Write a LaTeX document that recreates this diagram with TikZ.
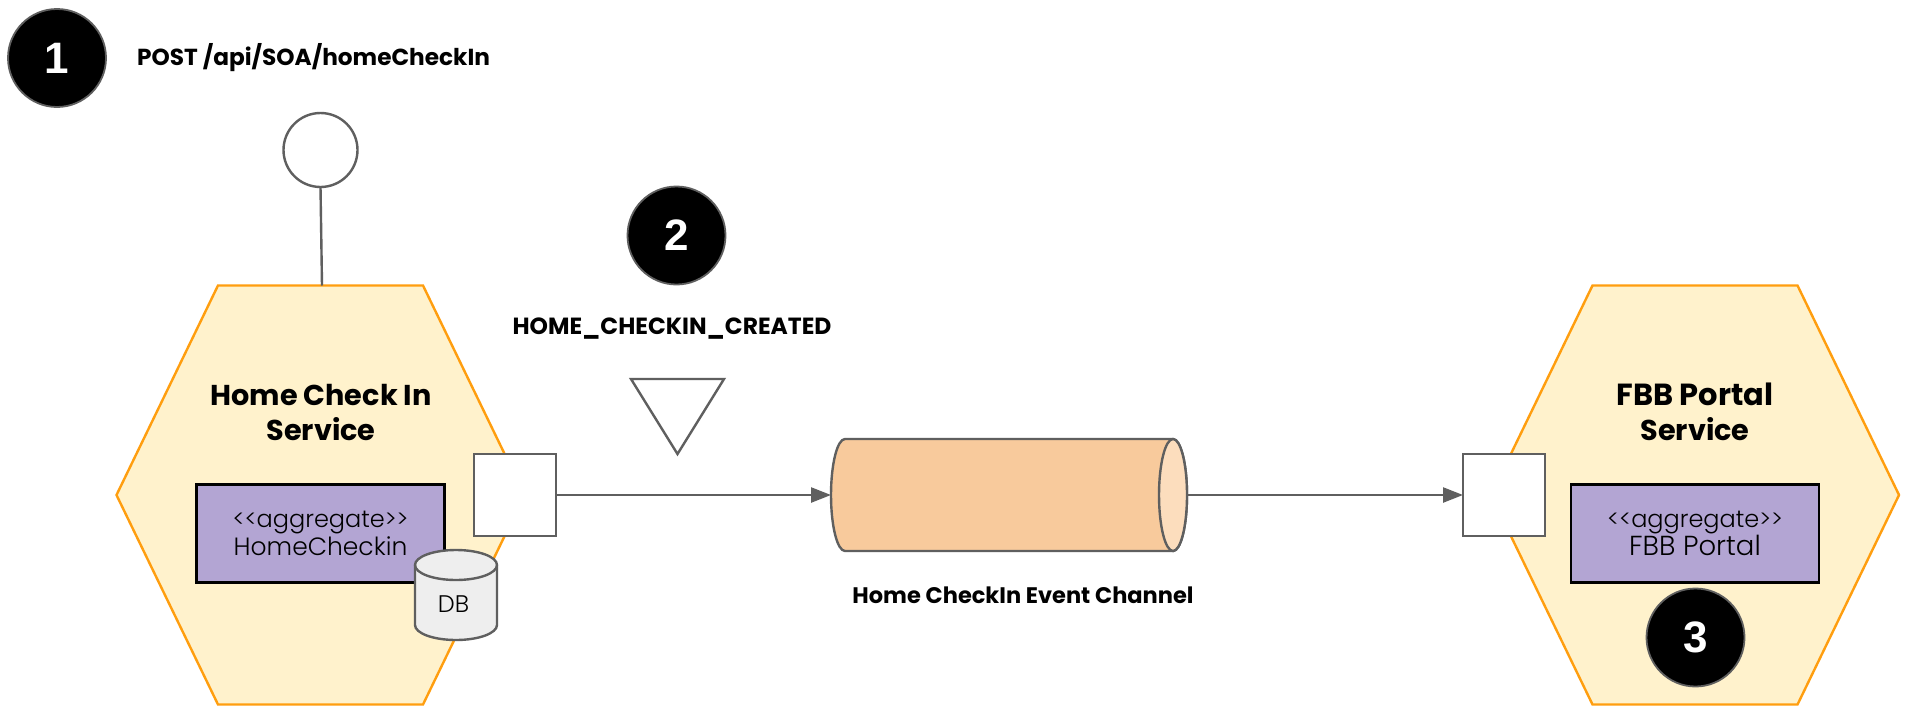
\documentclass[tikz,border=0pt]{standalone}
\usepackage{fontspec}
\setmainfont{Poppins}
\newfontfamily\badgefont{Liberation Sans}
\newfontfamily\lightfont{Poppins Light}
\usetikzlibrary{calc,arrows.meta}
\definecolor{lineGray}{HTML}{5F5F5F}
\definecolor{hexFill}{HTML}{FFF2CC}
\definecolor{hexLine}{HTML}{FF9E0F}
\definecolor{aggFill}{HTML}{B3A5D3}
\definecolor{chanFill}{HTML}{F8CA9C}
\definecolor{chanEnd}{HTML}{FCDDBD}
\definecolor{dbFill}{HTML}{EEEEEE}
\newcommand{\linesize}[1]{\fontsize{#1}{28}\selectfont}
\tikzset{
  x=1pt,y=-1pt,
  badge/.style={circle,draw=lineGray,fill=black,line width=1.8pt,minimum size=98pt,inner sep=0pt,text=white,font=\badgefont\fontsize{44}{44}\selectfont\bfseries},
  hexbox/.style={minimum width=408pt,minimum height=419pt,inner sep=0pt,outer sep=0pt},
  hexline/.style={draw=hexLine,fill=hexFill,line width=2.4pt,line join=miter},
  aggbox/.style={draw=black,fill=aggFill,line width=2.2pt,minimum width=248pt,minimum height=98pt,inner sep=0pt,outer sep=0pt,align=center},
  aggtext/.style={font=\lightfont\fontsize{#1}{28}\selectfont},
  portbox/.style={draw=lineGray,fill=white,line width=2.4pt,minimum size=82pt,inner sep=0pt,outer sep=0pt},
  title/.style={align=center,inner sep=0pt,font=\fontsize{#1}{35}\selectfont\bfseries},
  label/.style={inner sep=0pt,font=\fontsize{#1}{24}\selectfont\bfseries},
  flow/.style={draw=lineGray,line width=2.4pt,-{Triangle[length=20pt,width=15pt]}},
  shapeline/.style={draw=lineGray,line width=2.4pt}
}
\begin{document}
\begin{tikzpicture}
\useasboundingbox (0,0) rectangle (1908,720);
\fill[white] (0,0) rectangle (1908,720);

% hexagons
\node[hexbox] (hexA) at (320.5,495) {};
\path[hexline] (hexA.west) -- ($(hexA.north west)+(101.5,0)$) -- ($(hexA.north east)+(-101.5,0)$) -- (hexA.east) -- ($(hexA.south east)+(-101.5,0)$) -- ($(hexA.south west)+(101.5,0)$) -- cycle;
\node[hexbox] (hexB) at (1695,495) {};
\path[hexline] (hexB.west) -- ($(hexB.north west)+(101.5,0)$) -- ($(hexB.north east)+(-101.5,0)$) -- (hexB.east) -- ($(hexB.south east)+(-101.5,0)$) -- ($(hexB.south west)+(101.5,0)$) -- cycle;

% titles
\node[title=28.7] (titleA) at (321,412) {Home Check In\\Service};
\node[title=28.7] (titleB) at (1695,411.5) {{\fontsize{30.5}{35}\selectfont FBB Portal}\\Service};

% aggregates
\node[aggbox,aggtext=24] (aggA) at (320.5,533.5) {{<}{<}aggregate{>}{>}\\{\linesize{25}HomeCheckin}};
\node[aggbox,aggtext=24] (aggB) at (1695,533.5) {{<}{<}aggregate{>}{>}\\{\linesize{27.5}FBB Portal}};

% database
\node[minimum width=82pt,minimum height=90pt,inner sep=0pt,outer sep=0pt] (db) at (456,595) {};
\path[shapeline,fill=dbFill] (415,565) .. controls (415,556.7) and (433.4,550) .. (456,550) .. controls (478.6,550) and (497,556.7) .. (497,565) -- (497,625) .. controls (497,633.3) and (478.6,640) .. (456,640) .. controls (433.4,640) and (415,633.3) .. (415,625) -- cycle;
\path[shapeline] (415,565) .. controls (415,573.3) and (433.4,580) .. (456,580) .. controls (478.6,580) and (497,573.3) .. (497,565);
\node[font=\lightfont\fontsize{24}{24}\selectfont,inner sep=0pt] (dbtext) at (453.5,604) {DB};

% ports
\node[portbox] (portA) at (515,495) {};
\node[portbox] (portB) at (1504,495) {};

% interface
\node[circle,draw=lineGray,fill=white,line width=2.4pt,minimum size=74pt,inner sep=0pt,outer sep=0pt] (iface) at (320.5,150) {};
\coordinate (ifaceEnd) at ($(hexA.north)+(1.5,0)$);
\draw[shapeline] (iface.south) -- (ifaceEnd);

% channel
\node[minimum width=356pt,minimum height=112pt,inner sep=0pt,outer sep=0pt] (chan) at (1009,495) {};
\path[shapeline,fill=chanFill] (845,439) -- (1173,439) .. controls (1180.7,439) and (1187,464) .. (1187,495) .. controls (1187,526) and (1180.7,551) .. (1173,551) -- (845,551) .. controls (837.3,551) and (831,526) .. (831,495) .. controls (831,464) and (837.3,439) .. (845,439) -- cycle;
\path[shapeline,fill=chanEnd] (1173,439) .. controls (1180.7,439) and (1187,464) .. (1187,495) .. controls (1187,526) and (1180.7,551) .. (1173,551) .. controls (1165.3,551) and (1159,526) .. (1159,495) .. controls (1159,464) and (1165.3,439) .. (1173,439) -- cycle;

% connectors
\draw[flow] (portA.east) -- (chan.west);
\draw[flow] (chan.east) -- (portB.west);

% event
\node[label=23.4] (evt) at (672,329) {HOME\_CHECKIN\_CREATED};
\node[minimum width=93pt,minimum height=75pt,inner sep=0pt,outer sep=0pt] (tri) at (677.5,416.5) {};
\path[shapeline,fill=white,line join=miter] (tri.north west) -- (tri.north east) -- (tri.south) -- cycle;

% labels
\node[label=23.2,anchor=west] (post) at (137,58) {POST /api/SOA/homeCheckIn};
\node[label=22.5] (chanlabel) at (1023,595) {Home CheckIn Event Channel};

% badges
\node[badge] (b1) at (57,58) {1};
\node[badge] (b2) at (676.5,235.5) {2};
\node[badge] (b3) at (1695.5,637.5) {3};
\end{tikzpicture}
\end{document}
